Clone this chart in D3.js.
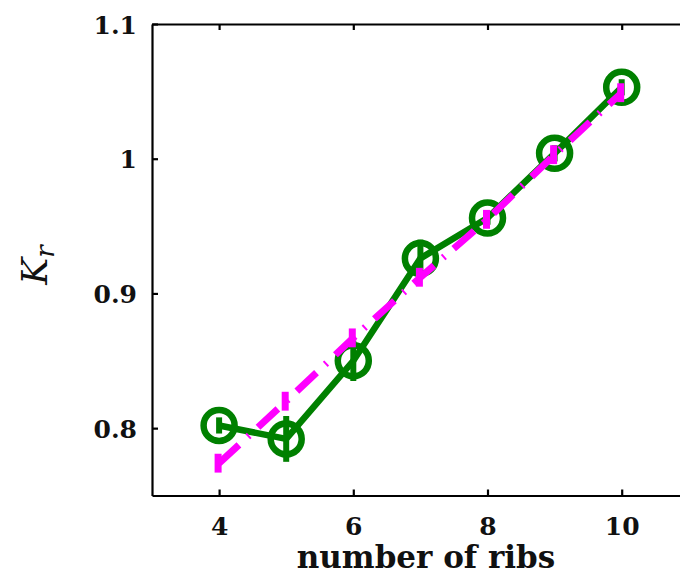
<!DOCTYPE html>
<html>
<head>
<meta charset="utf-8">
<script src="https://cdn.jsdelivr.net/npm/d3@7"></script>
<style>
  html, body { margin: 0; padding: 0; background: #fff; }
  svg { display: block; }
</style>
</head>
<body>
<svg id="chart" width="680" height="578"></svg>
<script>
// ---- data ----
const ribs = [4, 5, 6, 7, 8, 9, 10];
const measured = [0.802, 0.792, 0.850, 0.926, 0.956, 1.004, 1.053];
const measuredErr = [0.006, 0.017, 0.015, 0.014, 0.005, 0.006, 0.006];
const fitted = [0.774, 0.820, 0.867, 0.912, 0.955, 1.003, 1.049];
const fittedErr = [0.007, 0.007, 0.007, 0.007, 0.007, 0.007, 0.007];
const xTicks = [4, 6, 8, 10];
const yTicks = [0.8, 0.9, 1.0, 1.1];
const xDomain = [3, 11];
const yDomain = [0.75, 1.1];

const svg = d3.select("#chart");
const mLeft = 152, mTop = 24, mBottom = 495.5, unit = 67.1;
const x = d3.scaleLinear().domain(xDomain).range([mLeft, mLeft + (xDomain[1] - xDomain[0]) * unit]);
const y = d3.scaleLinear().domain(yDomain).range([mBottom, mTop]);

const font = "'DejaVu Serif', 'Liberation Serif', serif";
const green = "#008000", magenta = "#ff00ff";

// axes (ticks inward)
const axB = svg.append("g").attr("transform", `translate(0,${mBottom})`)
  .call(d3.axisBottom(x).tickValues(xTicks).tickSizeInner(-6).tickSizeOuter(0).tickPadding(22).tickFormat(d3.format("d")));
const axT = svg.append("g").attr("transform", `translate(0,${mTop})`)
  .call(d3.axisTop(x).tickValues(xTicks).tickSizeInner(-6).tickSizeOuter(0).tickFormat(""));
const axL = svg.append("g").attr("transform", `translate(${mLeft},0)`)
  .call(d3.axisLeft(y).tickValues(yTicks).tickSizeInner(-6).tickSizeOuter(0).tickPadding(15).tickFormat(d => String(+d.toFixed(1))));
[axB, axT, axL].forEach(g => {
  g.select(".domain").attr("stroke", "#000").attr("stroke-width", 2.2);
  g.selectAll(".tick line").attr("stroke", "#000").attr("stroke-width", 2.2);
  g.selectAll("text").attr("font-family", font).attr("font-weight", "bold")
    .attr("font-size", 25).attr("fill", "#111");
});
axL.selectAll("text").attr("dy", "0.36em");
axB.selectAll("text").attr("dy", "0.71em");

// green series
const line = d3.line().x((d, i) => x(ribs[i])).y(d => y(d));
const gG = svg.append("g");
gG.append("path").datum(measured).attr("d", line)
  .attr("fill", "none").attr("stroke", green).attr("stroke-width", 6.5).attr("stroke-linejoin", "round");
gG.selectAll("line.err").data(measured).join("line").attr("class", "err")
  .attr("x1", (d, i) => x(ribs[i])).attr("x2", (d, i) => x(ribs[i]))
  .attr("y1", (d, i) => y(d - measuredErr[i])).attr("y2", (d, i) => y(d + measuredErr[i]))
  .attr("stroke", green).attr("stroke-width", 6);
gG.selectAll("circle").data(measured).join("circle")
  .attr("cx", (d, i) => x(ribs[i])).attr("cy", d => y(d)).attr("r", 15.5)
  .attr("fill", "none").attr("stroke", green).attr("stroke-width", 6.5);

// magenta series
const gM = svg.append("g");
gM.append("path").datum(fitted).attr("d", line)
  .attr("fill", "none").attr("stroke", magenta).attr("stroke-width", 7)
  .attr("stroke-dasharray", "27,12,2,12");
gM.selectAll("line.err").data(fitted).join("line").attr("class", "err")
  .attr("x1", (d, i) => x(ribs[i]) - 1).attr("x2", (d, i) => x(ribs[i]) - 1)
  .attr("y1", (d, i) => y(d - fittedErr[i])).attr("y2", (d, i) => y(d + fittedErr[i]))
  .attr("stroke", magenta).attr("stroke-width", 7);

// axis titles
svg.append("text").attr("x", 426).attr("y", 568).attr("text-anchor", "middle")
  .attr("font-family", font).attr("font-weight", "bold").attr("font-size", 31).attr("fill", "#111")
  .text("number of ribs");
const yl = svg.append("text").attr("transform", "translate(47,265) rotate(-90)")
  .attr("text-anchor", "middle").attr("font-family", font).attr("font-style", "italic")
  .attr("font-size", 36).attr("fill", "#111");
yl.append("tspan").text("K");
yl.append("tspan").attr("font-size", 26).attr("dy", 7).text("r");
</script>
</body>
</html>
